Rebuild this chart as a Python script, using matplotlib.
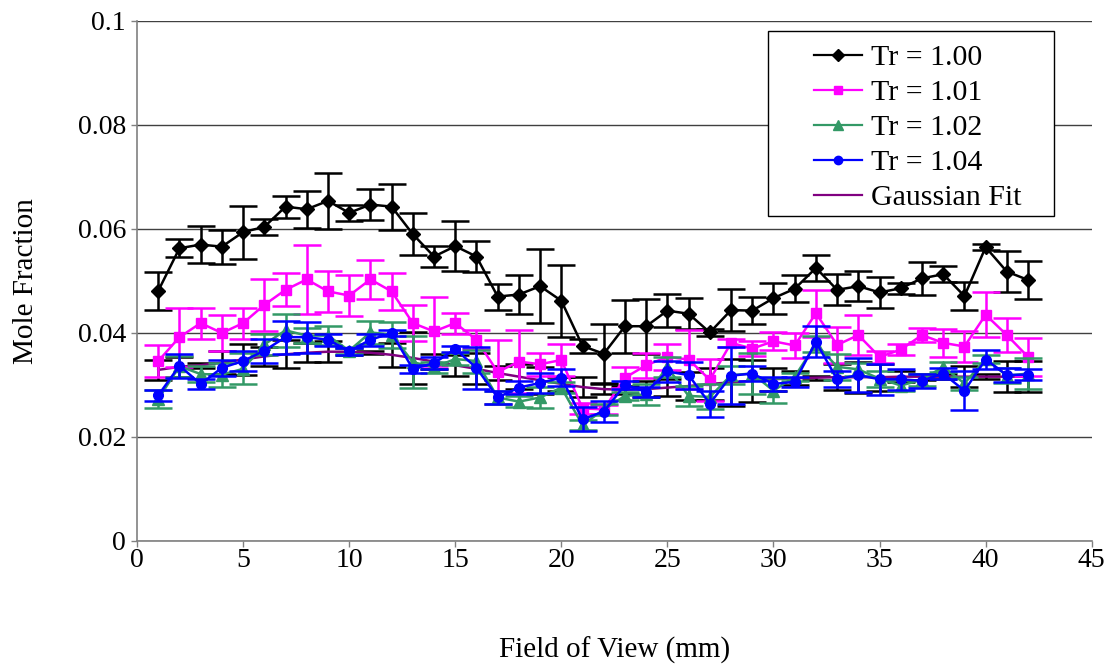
import matplotlib
matplotlib.use('Agg')
import matplotlib.pyplot as plt
from matplotlib.lines import Line2D
from matplotlib.patches import Rectangle

# data
field_of_view = list(range(1, 43))

tr_100 = [0.0481, 0.0563, 0.0570, 0.0566, 0.0594, 0.0604, 0.0643, 0.0638, 0.0654, 0.0631,
          0.0647, 0.0643, 0.0590, 0.0547, 0.0567, 0.0547, 0.0470, 0.0474, 0.0490, 0.0462,
          0.0375, 0.0360, 0.0413, 0.0413, 0.0443, 0.0437, 0.0401, 0.0444, 0.0443, 0.0467,
          0.0485, 0.0525, 0.0483, 0.0490, 0.0478, 0.0486, 0.0505, 0.0513, 0.0471, 0.0565,
          0.0518, 0.0502]
tr_100_err = [0.0037, 0.0017, 0.0036, 0.0033, 0.0051, 0.0015, 0.0021, 0.0036, 0.0054, 0.0016,
              0.0030, 0.0044, 0.0040, 0.0020, 0.0048, 0.0030, 0.0025, 0.0037, 0.0071, 0.0069,
              0.0013, 0.0057, 0.0051, 0.0053, 0.0032, 0.0030, 0.0006, 0.0040, 0.0026, 0.0030,
              0.0026, 0.0025, 0.0030, 0.0029, 0.0030, 0.0011, 0.0032, 0.0015, 0.0027, 0.0006,
              0.0040, 0.0037]

tr_101 = [0.0346, 0.0392, 0.0419, 0.0400, 0.0419, 0.0454, 0.0483, 0.0503, 0.0480, 0.0472,
          0.0503, 0.0480, 0.0419, 0.0403, 0.0419, 0.0387, 0.0325, 0.0345, 0.0340, 0.0348,
          0.0255, 0.0253, 0.0314, 0.0338, 0.0354, 0.0349, 0.0310, 0.0381, 0.0370, 0.0384,
          0.0376, 0.0438, 0.0377, 0.0396, 0.0354, 0.0368, 0.0396, 0.0381, 0.0374, 0.0435,
          0.0396, 0.0354]
tr_101_err = [0.0030, 0.0057, 0.0030, 0.0035, 0.0030, 0.0050, 0.0032, 0.0067, 0.0040, 0.0040,
              0.0038, 0.0035, 0.0035, 0.0067, 0.0020, 0.0018, 0.0062, 0.0060, 0.0022, 0.0030,
              0.0010, 0.0008, 0.0020, 0.0024, 0.0025, 0.0056, 0.0040, 0.0008, 0.0015, 0.0017,
              0.0024, 0.0045, 0.0035, 0.0038, 0.0012, 0.0011, 0.0013, 0.0027, 0.0030, 0.0043,
              0.0032, 0.0037]

tr_102 = [0.0273, 0.0336, 0.0321, 0.0320, 0.0331, 0.0378, 0.0405, 0.0395, 0.0395, 0.0366,
          0.0401, 0.0397, 0.0344, 0.0334, 0.0350, 0.0346, 0.0276, 0.0268, 0.0276, 0.0295,
          0.0223, 0.0253, 0.0279, 0.0282, 0.0334, 0.0279, 0.0277, 0.0319, 0.0322, 0.0289,
          0.0316, 0.0379, 0.0335, 0.0330, 0.0312, 0.0299, 0.0310, 0.0335, 0.0303, 0.0350,
          0.0318, 0.0322]
tr_102_err = [0.0018, 0.0020, 0.0015, 0.0023, 0.0030, 0.0020, 0.0031, 0.0015, 0.0018, 0.0006,
              0.0022, 0.0025, 0.0050, 0.0010, 0.0012, 0.0022, 0.0012, 0.0010, 0.0020, 0.0010,
              0.0010, 0.0010, 0.0007, 0.0020, 0.0019, 0.0020, 0.0024, 0.0018, 0.0040, 0.0024,
              0.0008, 0.0015, 0.0025, 0.0012, 0.0015, 0.0010, 0.0012, 0.0010, 0.0012, 0.0008,
              0.0015, 0.0030]

tr_104 = [0.0280, 0.0337, 0.0302, 0.0333, 0.0346, 0.0366, 0.0392, 0.0392, 0.0387, 0.0365,
          0.0387, 0.0400, 0.0331, 0.0342, 0.0369, 0.0333, 0.0276, 0.0295, 0.0304, 0.0314,
          0.0234, 0.0249, 0.0300, 0.0287, 0.0326, 0.0319, 0.0264, 0.0318, 0.0322, 0.0302,
          0.0306, 0.0383, 0.0311, 0.0319, 0.0311, 0.0311, 0.0308, 0.0322, 0.0289, 0.0349,
          0.0319, 0.0320]
tr_104_err = [0.0010, 0.0023, 0.0010, 0.0015, 0.0020, 0.0023, 0.0032, 0.0030, 0.0012, 0.0007,
              0.0012, 0.0005, 0.0008, 0.0012, 0.0006, 0.0040, 0.0013, 0.0013, 0.0020, 0.0016,
              0.0023, 0.0020, 0.0008, 0.0010, 0.0020, 0.0026, 0.0025, 0.0055, 0.0015, 0.0013,
              0.0010, 0.0030, 0.0015, 0.0032, 0.0030, 0.0020, 0.0013, 0.0010, 0.0037, 0.0018,
              0.0013, 0.0010]

gauss_fit = [0.0329, 0.0335, 0.0338, 0.0343, 0.0349, 0.0355, 0.0359, 0.0362, 0.0364, 0.0364,
             0.0362, 0.0358, 0.0352, 0.0345, 0.0338, 0.0331, 0.0323, 0.0316, 0.0309, 0.0302,
             0.0296, 0.0292, 0.0291, 0.0292, 0.0295, 0.0298, 0.0302, 0.0305, 0.0308, 0.0311,
             0.0313, 0.0314, 0.0315, 0.0315, 0.0315, 0.0316, 0.0316, 0.0316, 0.0316, 0.0316,
             0.0316, 0.0316]
gauss_err = [0.0019, 0.0019, 0.0005, 0.0022, 0.0030, 0.0018, 0.0027, 0.0018, 0.0020, 0.0007,
             0.0003, 0.0023, 0.0050, 0.0015, 0.0020, 0.0030, 0.0013, 0.0024, 0.0026, 0.0013,
             0.0020, 0.0009, 0.0008, 0.0016, 0.0016, 0.0027, 0.0030, 0.0045, 0.0040, 0.0022,
             0.0013, 0.0004, 0.0025, 0.0030, 0.0026, 0.0011, 0.0006, 0.0005, 0.0020, 0.0005,
             0.0030, 0.0030]

x_ticks = [0, 5, 10, 15, 20, 25, 30, 35, 40, 45]
y_ticks = [0, 0.02, 0.04, 0.06, 0.08, 0.1]
y_tick_labels = ['0', '0.02', '0.04', '0.06', '0.08', '0.1']

# Times-like look
plt.rcParams['font.family'] = ['Liberation Serif', 'DejaVu Serif']

fig = plt.figure(figsize=(11.14, 6.66), dpi=100)
ax = fig.add_axes([0.123, 0.1877, 0.857, 0.7808])

cap = 10
lw = 1.8

# gaussian fit first so it sits underneath
ax.errorbar(field_of_view, gauss_fit, yerr=gauss_err, color='#800080', lw=1.8,
            ecolor='black', elinewidth=lw, capsize=cap, capthick=lw, zorder=2)

series = [
    (tr_100, tr_100_err, 'black', 'D', 7, 'Tr = 1.00'),
    (tr_101, tr_101_err, '#FF00FF', 's', 7, 'Tr = 1.01'),
    (tr_102, tr_102_err, '#339966', '^', 8, 'Tr = 1.02'),
    (tr_104, tr_104_err, '#0000FF', 'o', 7, 'Tr = 1.04'),
]
for i, (vals, errs, col, mk, ms, lab) in enumerate(series):
    ax.errorbar(field_of_view, vals, yerr=errs, color=col, marker=mk, ms=ms, lw=lw,
                elinewidth=lw, capsize=cap, capthick=lw, zorder=3 + i)

# legend: lines with markers, no error bars; frame drawn separately (excel box)
leg_handles = [Line2D([], [], color=c, marker=m, ms=ms - 1, lw=1.6)
               for (_, _, c, m, ms, _) in series]
leg_handles.append(Line2D([], [], color='#800080', lw=1.6))
leg_labels = [s[5] for s in series] + ['Gaussian Fit']
leg = ax.legend(leg_handles, leg_labels, loc='upper left', bbox_to_anchor=(0.709, 0.955),
                fontsize=21.5, frameon=False, handlelength=1.6, handletextpad=0.3,
                labelspacing=0.27, borderpad=0, borderaxespad=0)
leg.set_zorder(20)
ax.add_patch(Rectangle((0.661, 0.625), 0.300, 0.356, transform=ax.transAxes,
                       facecolor='white', edgecolor='black', lw=1.0, zorder=8))

# axes styling (excel-ish)
ax.set_xlim(0, 45)
ax.set_ylim(0, 0.1)
ax.set_xticks(x_ticks)
ax.set_yticks(y_ticks)
ax.set_yticklabels(y_tick_labels)
ax.tick_params(axis='both', labelsize=20, direction='out', length=4, width=1, color='#808080')
ax.tick_params(axis='x', pad=1)
ax.tick_params(axis='y', pad=4)
ax.grid(axis='y', color='#404040', lw=1.0)
ax.set_axisbelow(True)
for side in ['top', 'right']:
    ax.spines[side].set_visible(False)
for side in ['left', 'bottom']:
    ax.spines[side].set_color('#808080')
    ax.spines[side].set_linewidth(1.2)

ax.set_xlabel('Field of View (mm)', fontsize=21, labelpad=46)
ax.set_ylabel('Mole Fraction', fontsize=21, labelpad=28)

fig.savefig('out.png', dpi=100)
